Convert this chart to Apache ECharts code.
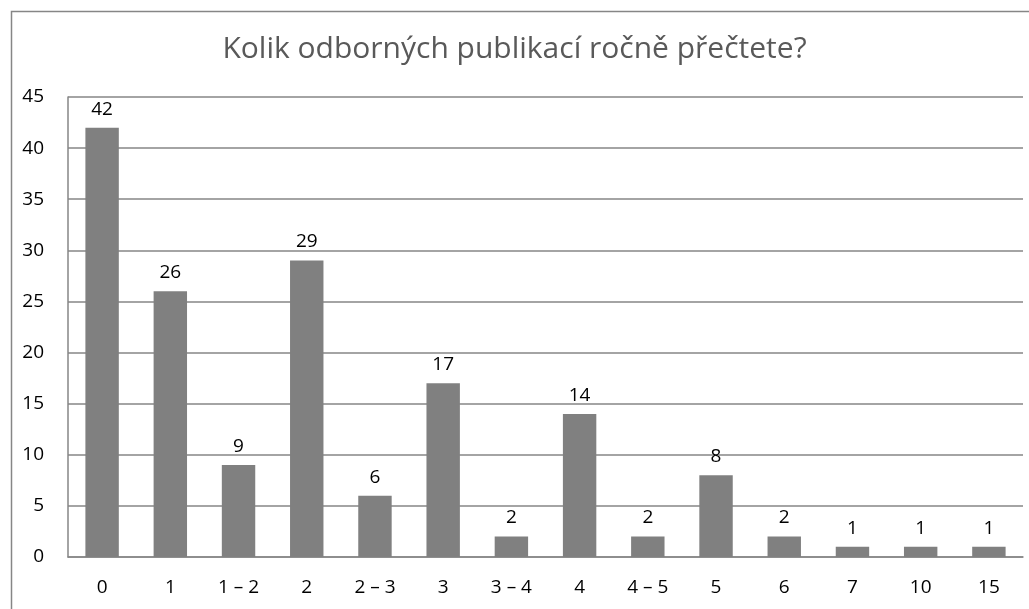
<!DOCTYPE html>
<html>
<head>
<meta charset="utf-8">
<script src="https://cdn.jsdelivr.net/npm/echarts@6/dist/echarts.min.js"></script>
<style>
  html, body { margin: 0; padding: 0; background: #fff; }
  #chart { width: 1029px; height: 609px; }
</style>
</head>
<body>
<div id="chart"></div>
<script>
  const titleText = 'Kolik odborných publikací ročně přečtete?';
  const categories = ['0', '1', '1 – 2', '2', '2 – 3', '3', '3 – 4', '4', '4 – 5', '5', '6', '7', '10', '15'];
  const counts = [42, 26, 9, 29, 6, 17, 2, 14, 2, 8, 2, 1, 1, 1];

  const font = '"Open Sans", "Liberation Sans", sans-serif';
  const chart = echarts.init(document.getElementById('chart'));

  chart.setOption({
    animation: false,
    graphic: [{
      type: 'rect',
      shape: { x: 11.5, y: 11.5, width: 1040, height: 620 },
      style: { fill: 'none', stroke: '#868686', lineWidth: 1.5 }
    }],
    title: {
      text: titleText,
      left: 'center',
      top: 29,
      textStyle: { color: '#595959', fontFamily: font, fontWeight: 'normal', fontSize: 30 }
    },
    grid: { left: 68, right: 6, top: 97, bottom: 52 },
    xAxis: {
      type: 'category',
      data: categories,
      axisLine: { lineStyle: { color: '#868686', width: 1.5 } },
      axisTick: { show: false },
      axisLabel: { color: '#000', fontFamily: font, fontSize: 19, margin: 21 }
    },
    yAxis: {
      type: 'value',
      min: 0,
      max: 45,
      interval: 5,
      axisLine: { show: true, lineStyle: { color: '#868686', width: 1.5 } },
      axisTick: { show: false },
      axisLabel: { color: '#000', fontFamily: font, fontSize: 19, margin: 24 },
      splitLine: { lineStyle: { color: '#868686', width: 1.5 } }
    },
    series: [{
      type: 'bar',
      data: counts,
      barCategoryGap: '51%',
      itemStyle: { color: '#808080' },
      label: { show: true, position: 'top', distance: 9, color: '#000', fontFamily: font, fontSize: 19 }
    }]
  });
</script>
</body>
</html>
